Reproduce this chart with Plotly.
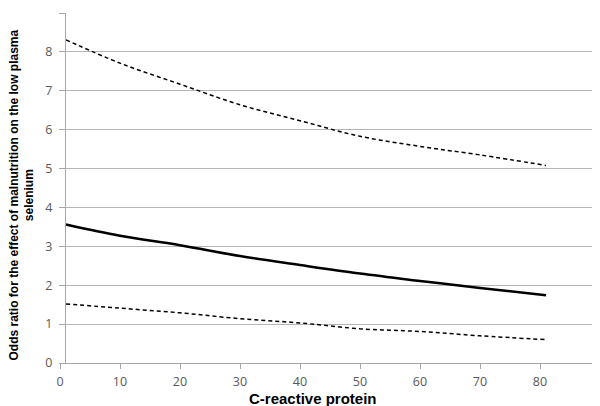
import plotly.graph_objects as go

# Data
crp = [1, 10, 20, 30, 40, 50, 60, 70, 81]
odds_ratio = [3.56, 3.27, 3.03, 2.75, 2.52, 2.30, 2.11, 1.93, 1.74]
upper_ci = [8.31, 7.71, 7.17, 6.64, 6.23, 5.83, 5.57, 5.35, 5.08]
lower_ci = [1.52, 1.41, 1.29, 1.14, 1.03, 0.88, 0.81, 0.70, 0.60]

x_ticks = [0, 10, 20, 30, 40, 50, 60, 70, 80, 90]
y_ticks = [0, 1, 2, 3, 4, 5, 6, 7, 8, 9]

fig = go.Figure()
fig.add_trace(go.Scatter(x=crp, y=upper_ci, mode="lines", line_shape="spline",
                         line=dict(color="black", width=1.5, dash="4px,3px"),
                         showlegend=False, hoverinfo="skip"))
fig.add_trace(go.Scatter(x=crp, y=odds_ratio, mode="lines", line_shape="spline",
                         line=dict(color="black", width=2.5),
                         showlegend=False, hoverinfo="skip"))
fig.add_trace(go.Scatter(x=crp, y=lower_ci, mode="lines", line_shape="spline",
                         line=dict(color="black", width=1.5, dash="4px,3px"),
                         showlegend=False, hoverinfo="skip"))

tick_font = dict(family="Open Sans, Liberation Sans, sans-serif", size=12.5, color="#595959")

fig.update_layout(
    width=600, height=406,
    margin=dict(l=52, r=8, t=5, b=51),
    paper_bgcolor="white", plot_bgcolor="white",
    xaxis=dict(range=[0, 90], tickvals=x_ticks, showgrid=False, zeroline=False,
               showline=True, linecolor="#a6a6a6", linewidth=1,
               ticks="outside", ticklen=5, tickcolor="#a6a6a6",
               ticklabelstandoff=2,
               tickfont=tick_font, automargin=False),
    yaxis=dict(range=[0, 9], tickvals=y_ticks, showgrid=True, gridcolor="#b5b5b5", gridwidth=1,
               zeroline=False, showline=True, linecolor="#a6a6a6", linewidth=1,
               anchor="free", position=0.83 / 90, automargin=False,
               ticks="outside", ticklen=6, tickcolor="#a6a6a6",
               ticklabelstandoff=4,
               tickfont=tick_font),
)

fig.add_annotation(
    text="<b>C-reactive protein</b>",
    xref="paper", yref="paper", x=253 / 540, y=-35 / 350,
    xanchor="center", yanchor="middle", showarrow=False,
    font=dict(family="Liberation Sans, Arial, sans-serif", size=15, color="black"),
)

fig.add_annotation(
    text="<b>Odds ratio for the effect of malnutrition on the low plasma<br>selenium</b>",
    xref="paper", yref="paper", x=-38.5 / 540, y=0.48,
    xanchor="center", yanchor="middle", textangle=-90, showarrow=False,
    font=dict(family="Liberation Sans, Arial, sans-serif", size=12, color="black"),
)

fig.write_html("out.html")
